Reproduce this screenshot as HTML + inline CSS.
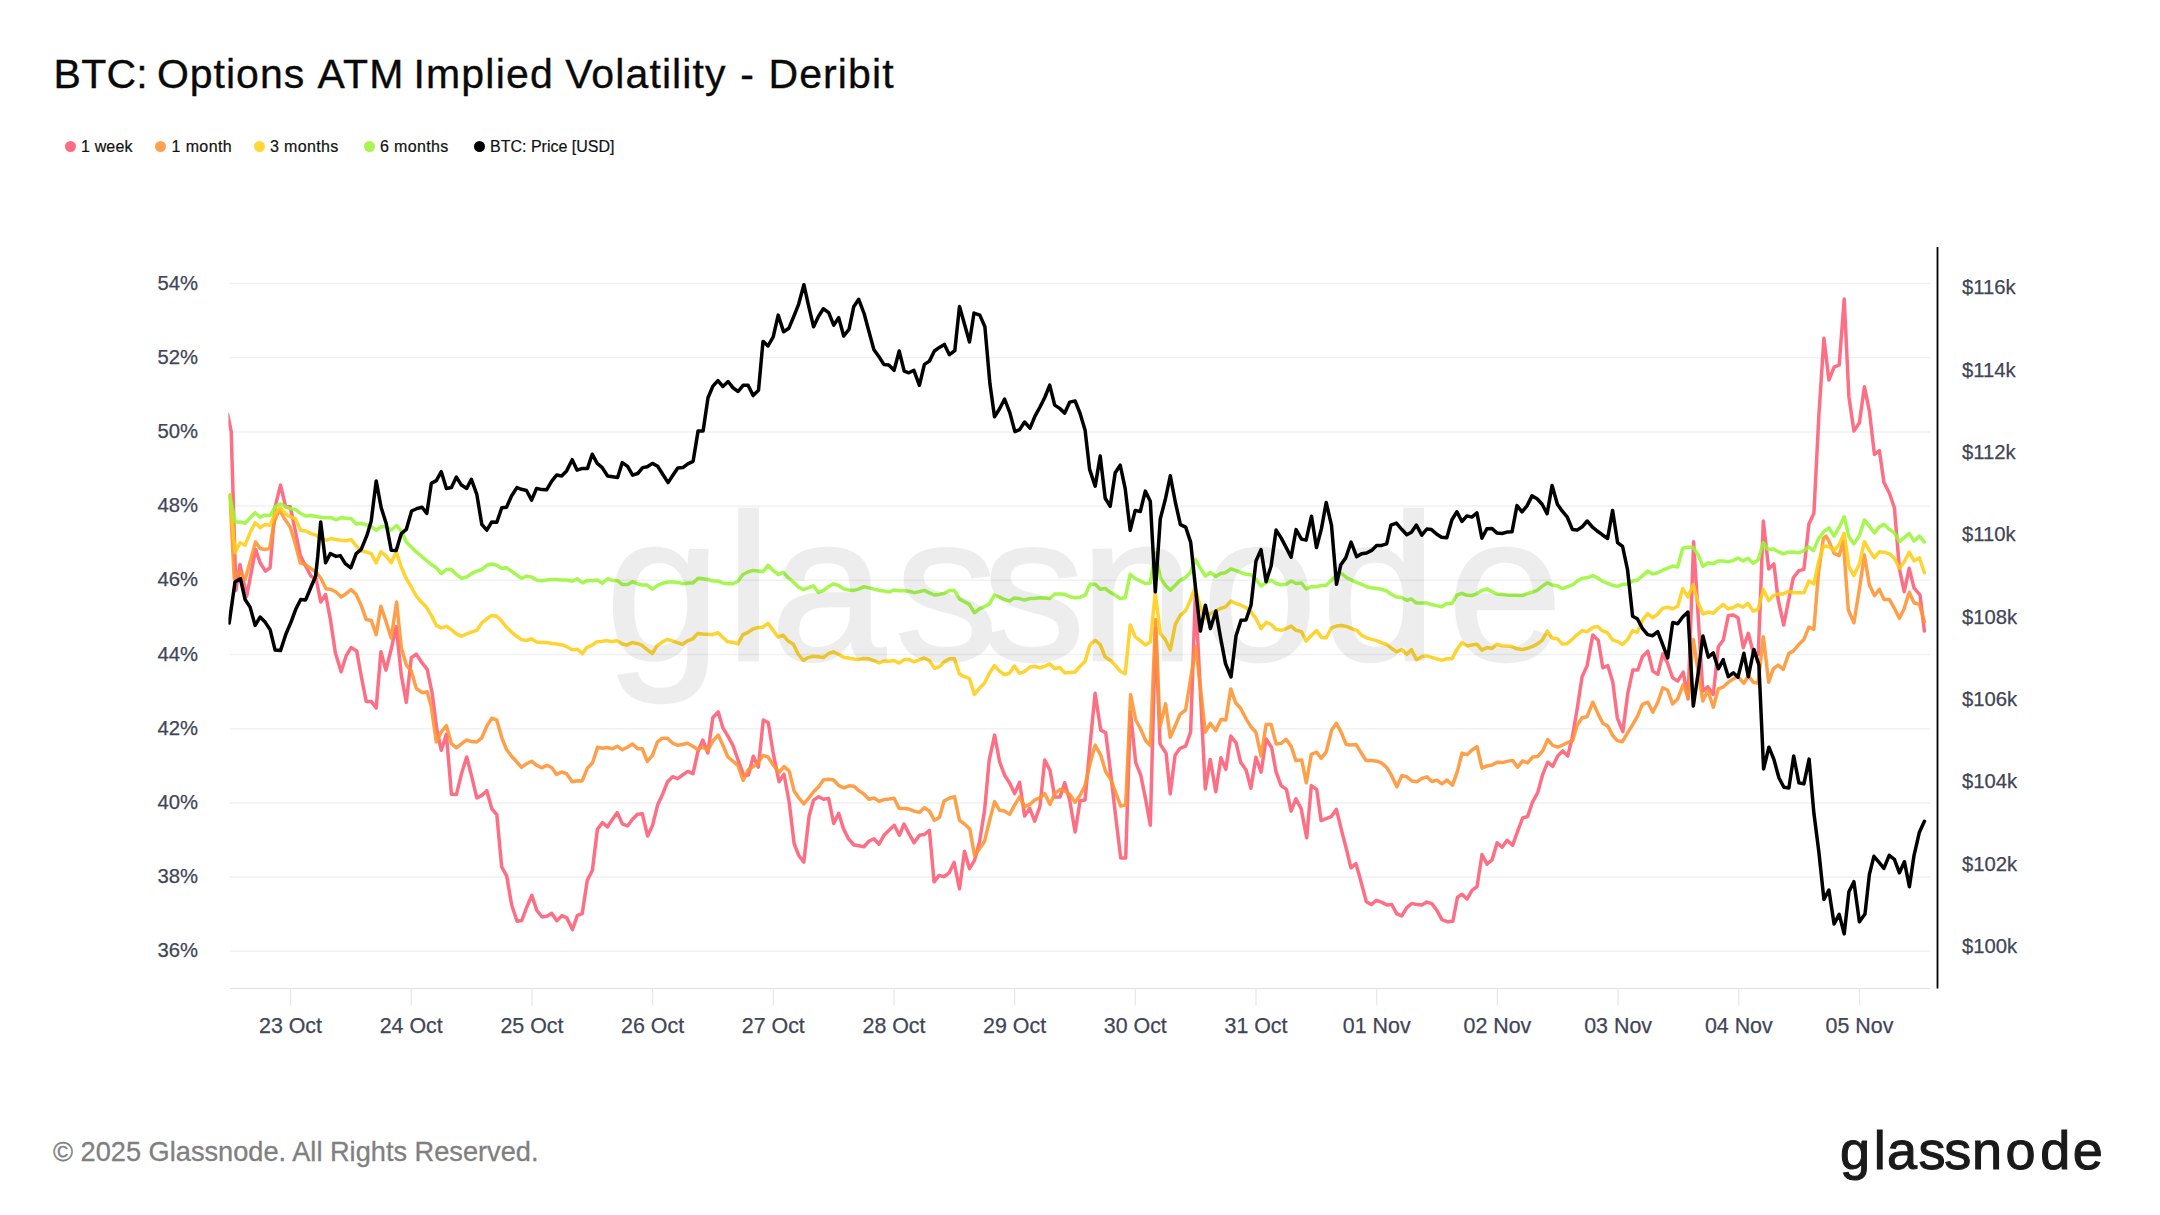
<!DOCTYPE html>
<html><head><meta charset="utf-8"><title>BTC: Options ATM Implied Volatility - Deribit</title>
<style>
html,body{margin:0;padding:0;background:#fff;}
body{width:2160px;height:1215px;position:relative;overflow:hidden;font-family:"Liberation Sans",sans-serif;}
#title{position:absolute;left:0;top:47.7px;height:52px;font-size:41px;line-height:52px;color:#0a0a0a;white-space:nowrap;}
#title span{position:absolute;top:0;white-space:nowrap;-webkit-text-stroke:0.35px #0a0a0a;}
#legend{position:absolute;left:0;top:134px;height:24px;font-size:16px;line-height:24px;color:#111;white-space:nowrap;}
#legend span.i{position:absolute;top:0.5px;white-space:nowrap;letter-spacing:0.15px;-webkit-text-stroke:0.2px #111;}
#legend span.d{position:absolute;top:6.5px;width:11px;height:11px;border-radius:50%;}
#foot{position:absolute;left:53px;top:1137px;font-size:27.2px;line-height:30px;color:#808080;white-space:nowrap;-webkit-text-stroke:0.3px #808080;}
svg{position:absolute;left:0;top:0;}
.ax{font-family:"Liberation Sans",sans-serif;font-size:20.3px;fill:#3f4656;stroke:#3f4656;stroke-width:0.25px;}
.xl{font-size:21.4px;}
.lg{font-family:"Liberation Sans",sans-serif;font-size:54px;fill:#1a1a1a;stroke:#1a1a1a;stroke-width:1.1px;}
.wm{font-family:"Liberation Sans",sans-serif;font-size:207px;fill:#000;stroke:#000;stroke-width:2.5px;opacity:0.068;}
</style></head><body>
<div id="title"><span style="left:53.6px;letter-spacing:0.2px">BTC:</span> <span style="left:156.9px;letter-spacing:1.0px">Options</span> <span style="left:317.6px;letter-spacing:1.15px">ATM</span> <span style="left:413.4px;letter-spacing:1.2px">Implied</span> <span style="left:565.2px;letter-spacing:1.1px">Volatility</span> <span style="left:740.2px;letter-spacing:0px">-</span> <span style="left:768.5px;letter-spacing:1.1px">Deribit</span></div>
<div id="legend">
<span class="d" style="left:64.5px;background:#ff6b82"></span><span class="i" style="left:81px">1 week</span>
<span class="d" style="left:154.5px;background:#ffa14e"></span><span class="i" style="left:171.5px;letter-spacing:0.4px">1 month</span>
<span class="d" style="left:253.5px;background:#ffd834"></span><span class="i" style="left:270px;letter-spacing:0.35px">3 months</span>
<span class="d" style="left:363.5px;background:#a8f552"></span><span class="i" style="left:380px;letter-spacing:0.35px">6 months</span>
<span class="d" style="left:473.5px;background:#000"></span><span class="i" style="left:490px;letter-spacing:0px">BTC: Price [USD]</span>
</div>
<svg width="2160" height="1215" viewBox="0 0 2160 1215">
<line x1="230" y1="283.5" x2="1930" y2="283.5" stroke="#f1f1f1" stroke-width="1.5"/><line x1="230" y1="357.7" x2="1930" y2="357.7" stroke="#f1f1f1" stroke-width="1.5"/><line x1="230" y1="431.9" x2="1930" y2="431.9" stroke="#f1f1f1" stroke-width="1.5"/><line x1="230" y1="506.1" x2="1930" y2="506.1" stroke="#f1f1f1" stroke-width="1.5"/><line x1="230" y1="580.3" x2="1930" y2="580.3" stroke="#f1f1f1" stroke-width="1.5"/><line x1="230" y1="654.5" x2="1930" y2="654.5" stroke="#f1f1f1" stroke-width="1.5"/><line x1="230" y1="728.7" x2="1930" y2="728.7" stroke="#f1f1f1" stroke-width="1.5"/><line x1="230" y1="802.9" x2="1930" y2="802.9" stroke="#f1f1f1" stroke-width="1.5"/><line x1="230" y1="877.1" x2="1930" y2="877.1" stroke="#f1f1f1" stroke-width="1.5"/><line x1="230" y1="951.3" x2="1930" y2="951.3" stroke="#f1f1f1" stroke-width="1.5"/>
<line x1="230" y1="988.5" x2="1930" y2="988.5" stroke="#e2e2e2" stroke-width="1.1"/>
<text x="198" y="289.5" text-anchor="end" class="ax">54%</text><text x="198" y="363.7" text-anchor="end" class="ax">52%</text><text x="198" y="437.9" text-anchor="end" class="ax">50%</text><text x="198" y="512.1" text-anchor="end" class="ax">48%</text><text x="198" y="586.3" text-anchor="end" class="ax">46%</text><text x="198" y="660.5" text-anchor="end" class="ax">44%</text><text x="198" y="734.7" text-anchor="end" class="ax">42%</text><text x="198" y="808.9" text-anchor="end" class="ax">40%</text><text x="198" y="883.1" text-anchor="end" class="ax">38%</text><text x="198" y="957.3" text-anchor="end" class="ax">36%</text><text x="1962" y="294.4" class="ax">$116k</text><text x="1962" y="376.7" class="ax">$114k</text><text x="1962" y="459.0" class="ax">$112k</text><text x="1962" y="541.3" class="ax">$110k</text><text x="1962" y="623.6" class="ax">$108k</text><text x="1962" y="705.9" class="ax">$106k</text><text x="1962" y="788.2" class="ax">$104k</text><text x="1962" y="870.5" class="ax">$102k</text><text x="1962" y="952.8" class="ax">$100k</text><line x1="290.5" y1="988" x2="290.5" y2="1005.5" stroke="#e8e8e8" stroke-width="1.3"/><text x="290.5" y="1033" text-anchor="middle" class="ax xl">23 Oct</text><line x1="411.2" y1="988" x2="411.2" y2="1005.5" stroke="#e8e8e8" stroke-width="1.3"/><text x="411.2" y="1033" text-anchor="middle" class="ax xl">24 Oct</text><line x1="531.9" y1="988" x2="531.9" y2="1005.5" stroke="#e8e8e8" stroke-width="1.3"/><text x="531.9" y="1033" text-anchor="middle" class="ax xl">25 Oct</text><line x1="652.6" y1="988" x2="652.6" y2="1005.5" stroke="#e8e8e8" stroke-width="1.3"/><text x="652.6" y="1033" text-anchor="middle" class="ax xl">26 Oct</text><line x1="773.3" y1="988" x2="773.3" y2="1005.5" stroke="#e8e8e8" stroke-width="1.3"/><text x="773.3" y="1033" text-anchor="middle" class="ax xl">27 Oct</text><line x1="894.0" y1="988" x2="894.0" y2="1005.5" stroke="#e8e8e8" stroke-width="1.3"/><text x="894.0" y="1033" text-anchor="middle" class="ax xl">28 Oct</text><line x1="1014.6" y1="988" x2="1014.6" y2="1005.5" stroke="#e8e8e8" stroke-width="1.3"/><text x="1014.6" y="1033" text-anchor="middle" class="ax xl">29 Oct</text><line x1="1135.3" y1="988" x2="1135.3" y2="1005.5" stroke="#e8e8e8" stroke-width="1.3"/><text x="1135.3" y="1033" text-anchor="middle" class="ax xl">30 Oct</text><line x1="1256.0" y1="988" x2="1256.0" y2="1005.5" stroke="#e8e8e8" stroke-width="1.3"/><text x="1256.0" y="1033" text-anchor="middle" class="ax xl">31 Oct</text><line x1="1376.7" y1="988" x2="1376.7" y2="1005.5" stroke="#e8e8e8" stroke-width="1.3"/><text x="1376.7" y="1033" text-anchor="middle" class="ax xl">01 Nov</text><line x1="1497.4" y1="988" x2="1497.4" y2="1005.5" stroke="#e8e8e8" stroke-width="1.3"/><text x="1497.4" y="1033" text-anchor="middle" class="ax xl">02 Nov</text><line x1="1618.1" y1="988" x2="1618.1" y2="1005.5" stroke="#e8e8e8" stroke-width="1.3"/><text x="1618.1" y="1033" text-anchor="middle" class="ax xl">03 Nov</text><line x1="1738.8" y1="988" x2="1738.8" y2="1005.5" stroke="#e8e8e8" stroke-width="1.3"/><text x="1738.8" y="1033" text-anchor="middle" class="ax xl">04 Nov</text><line x1="1859.5" y1="988" x2="1859.5" y2="1005.5" stroke="#e8e8e8" stroke-width="1.3"/><text x="1859.5" y="1033" text-anchor="middle" class="ax xl">05 Nov</text>
<clipPath id="pc"><rect x="228.4" y="240" width="1702" height="750"/></clipPath>
<g clip-path="url(#pc)"><polyline points="227.6,414.0 231.2,431.5 235.9,590.4 240.0,564.5 246.7,596.2 255.6,549.4 260.1,562.8 265.4,571.1 270.1,567.8 275.1,506.8 280.5,485.1 285.7,506.8 290.2,506.8 295.2,530.2 300.2,555.3 305.2,565.3 311.0,576.2 316.1,578.7 320.7,602.0 325.6,594.5 330.3,618.8 335.3,652.6 341.1,671.8 346.1,655.9 351.1,647.6 356.7,650.9 361.2,676.0 366.2,701.4 371.2,701.4 376.2,708.0 380.9,651.7 385.9,670.1 391.2,649.2 396.2,626.7 401.3,675.1 406.3,702.4 411.3,657.6 416.3,654.2 421.3,661.8 427.2,669.3 432.2,693.5 436.7,728.6 441.3,750.3 446.4,734.4 451.4,794.2 456.4,794.6 461.7,772.9 466.7,757.0 471.4,775.4 476.8,797.9 481.8,795.4 486.8,790.7 491.8,808.8 496.8,814.6 501.7,866.9 506.7,876.1 511.7,905.3 517.1,921.2 521.8,920.4 526.8,907.0 531.8,895.3 536.8,910.4 542.1,917.0 546.8,916.2 551.8,913.4 556.8,920.7 561.9,915.7 566.9,917.9 572.4,929.6 577.4,915.4 582.2,913.7 587.3,880.3 592.4,870.3 597.4,829.3 602.5,822.6 607.5,826.8 612.5,819.3 617.3,812.6 622.3,823.8 627.5,826.0 632.5,819.3 637.5,814.3 642.4,813.8 647.6,836.0 652.6,825.2 657.6,805.1 662.6,794.2 667.6,781.7 672.6,776.7 677.6,778.7 682.6,775.0 687.7,771.4 693.0,773.7 697.8,752.0 702.8,740.0 707.8,752.9 712.8,717.8 718.2,711.9 722.9,727.8 727.9,736.2 732.9,745.3 737.9,759.5 743.7,775.4 748.4,775.1 753.3,756.2 758.3,767.1 763.3,719.9 768.3,722.8 773.0,752.0 779.0,781.7 784.0,774.2 789.1,801.8 794.1,843.5 798.6,855.2 803.8,862.2 809.1,816.0 813.6,800.1 818.6,796.8 823.6,799.3 828.6,798.4 833.7,823.5 838.7,813.3 843.4,828.6 848.4,838.7 853.9,845.0 858.9,845.7 863.9,846.7 868.9,841.2 874.0,838.7 879.0,844.2 884.0,835.3 889.0,830.3 894.3,825.3 899.4,835.3 904.0,824.0 909.0,833.6 914.1,842.8 919.4,835.3 924.4,834.5 929.4,830.3 934.1,881.8 939.1,875.4 944.1,876.7 949.1,872.9 954.1,862.4 959.5,888.8 964.5,851.2 969.5,868.7 974.5,860.4 979.5,842.0 984.6,810.3 989.2,760.1 994.6,735.1 999.6,761.8 1004.6,775.2 1009.6,783.0 1014.6,793.6 1019.6,782.2 1024.6,816.1 1029.7,808.3 1034.7,821.1 1040.0,806.1 1044.7,760.1 1050.0,770.2 1054.7,796.9 1060.1,796.9 1064.7,782.7 1069.7,800.2 1075.1,832.0 1080.1,800.7 1085.1,799.9 1090.1,744.3 1095.1,693.3 1100.7,730.1 1105.7,732.6 1110.7,773.5 1115.7,816.9 1120.7,857.9 1125.7,857.9 1130.4,711.7 1135.7,762.6 1140.7,775.2 1145.8,800.2 1150.3,825.3 1155.6,628.0 1160.0,743.9 1166.1,753.3 1170.2,793.9 1175.0,755.6 1180.0,748.3 1185.6,746.1 1190.6,732.2 1195.4,593.5 1205.3,788.9 1210.2,759.4 1215.8,791.7 1220.9,757.8 1225.8,769.4 1230.8,736.1 1236.1,742.8 1240.6,762.2 1246.1,770.0 1250.9,788.3 1255.9,757.2 1261.1,772.2 1266.1,738.9 1271.7,747.8 1276.1,772.2 1281.1,785.6 1286.4,789.4 1291.1,811.1 1295.9,798.9 1301.1,808.3 1306.7,837.8 1311.3,785.6 1316.7,789.4 1321.1,820.6 1331.1,816.7 1336.4,809.4 1341.7,831.1 1346.7,850.3 1350.9,867.8 1355.9,863.6 1360.9,881.2 1366.3,901.7 1371.3,904.6 1376.3,900.4 1381.3,902.1 1386.8,904.9 1391.8,904.6 1396.8,913.8 1401.8,915.9 1406.8,907.6 1411.9,903.4 1416.9,904.6 1421.9,905.1 1426.9,902.1 1431.9,903.7 1436.9,910.4 1441.9,919.6 1447.8,921.8 1452.8,921.3 1457.5,897.1 1462.0,894.2 1467.0,899.1 1472.0,890.4 1477.0,886.7 1482.0,854.5 1487.0,864.1 1492.0,860.0 1497.1,842.8 1502.1,847.3 1507.1,840.3 1512.6,845.3 1517.6,831.4 1522.6,818.0 1527.6,816.5 1532.6,801.8 1537.7,792.6 1542.7,774.3 1547.7,762.2 1552.7,766.4 1557.7,755.9 1562.7,750.9 1567.7,755.9 1572.0,738.9 1577.0,710.0 1582.1,676.7 1587.1,665.6 1592.8,635.0 1598.3,640.6 1602.8,667.8 1607.8,665.6 1612.8,682.2 1617.3,717.8 1622.8,731.7 1627.8,693.3 1632.8,670.0 1637.8,670.0 1642.4,656.7 1647.8,651.1 1652.8,671.1 1657.8,674.4 1662.8,653.9 1667.6,663.3 1672.6,677.8 1677.7,681.1 1683.3,672.2 1688.1,698.9 1693.6,541.8 1702.8,691.1 1707.8,686.7 1713.3,694.4 1718.3,646.7 1723.3,640.0 1728.3,615.6 1733.3,615.0 1738.0,617.8 1743.3,647.8 1748.3,633.3 1753.3,652.8 1758.3,654.4 1763.3,521.1 1768.7,568.9 1773.9,563.9 1778.2,600.0 1783.7,625.0 1788.9,598.9 1793.3,577.8 1798.9,570.6 1803.9,569.4 1808.9,523.9 1813.9,513.3 1818.9,415.0 1823.9,338.3 1828.9,380.0 1834.1,367.2 1839.2,365.0 1844.2,299.1 1848.9,396.7 1853.9,431.1 1859.4,422.8 1864.4,386.7 1869.4,411.1 1874.4,454.4 1879.4,450.6 1883.9,482.2 1889.4,493.3 1894.4,507.8 1899.4,568.9 1904.2,591.7 1909.2,568.3 1914.0,587.8 1920.0,595.0 1924.4,631.1" fill="none" stroke="#fd5b73" stroke-opacity="0.88" stroke-width="3.5" stroke-linejoin="round" stroke-linecap="round"/><polyline points="230.0,495.1 234.2,578.7 236.7,573.6 240.0,572.0 245.1,579.5 255.6,541.9 260.1,548.6 265.1,549.4 269.6,548.6 274.3,521.9 279.3,509.3 284.3,518.5 290.2,526.9 295.2,543.6 300.2,562.8 305.2,564.5 311.0,568.6 316.1,572.0 321.1,578.7 326.1,588.7 331.1,589.5 336.1,592.0 341.1,597.0 346.1,593.7 351.1,589.5 356.2,594.5 361.2,605.4 366.2,619.6 371.2,620.4 376.2,634.6 380.9,606.2 386.2,622.1 391.2,638.0 396.6,602.0 401.3,647.6 406.3,665.1 411.3,671.0 416.3,688.5 422.1,692.7 427.2,691.8 431.3,706.9 436.3,742.0 441.3,731.9 446.4,725.7 451.4,743.6 456.4,747.8 461.7,743.6 466.7,739.9 471.4,741.6 476.8,742.0 481.8,737.8 486.8,726.1 491.8,718.2 496.8,720.2 501.8,737.8 506.5,749.5 511.5,756.2 516.9,762.0 521.5,767.3 526.5,763.7 531.6,761.2 536.6,765.3 541.6,767.8 546.9,765.3 551.9,767.8 556.6,774.5 561.6,772.0 566.6,773.7 572.2,781.7 577.5,780.7 582.2,780.9 587.3,768.4 591.7,763.7 592.4,763.3 597.6,747.3 602.6,748.2 607.1,747.5 612.6,748.7 617.3,746.2 622.3,749.8 627.3,747.3 632.6,744.0 637.7,748.7 642.2,748.7 647.3,761.5 652.4,755.4 657.4,742.0 661.9,738.3 667.4,738.3 672.2,742.8 677.3,745.3 682.4,744.5 687.4,743.3 692.8,746.2 697.8,749.5 702.5,747.0 707.8,750.4 712.8,741.2 718.2,735.0 722.9,745.3 727.9,757.0 732.9,761.2 737.9,765.4 743.1,780.4 748.1,770.0 753.1,766.7 757.9,762.9 763.0,755.4 768.0,757.0 773.0,764.6 779.0,772.5 784.0,766.7 789.1,770.9 794.1,790.9 798.6,797.6 803.8,803.8 809.1,797.6 813.6,791.7 818.6,786.7 823.6,779.7 828.6,779.2 833.7,780.0 838.5,785.4 844.0,787.9 849.0,785.8 854.0,786.3 858.5,790.4 863.5,793.8 869.0,799.3 874.0,798.0 879.1,801.3 884.1,799.6 889.1,799.1 894.1,798.3 899.0,808.3 904.0,808.6 909.0,809.1 914.1,811.1 919.4,812.4 924.4,807.8 929.4,811.1 934.4,820.3 939.4,817.4 944.1,801.1 949.1,798.2 954.5,796.6 959.5,820.3 964.5,824.0 969.8,829.0 974.5,855.4 979.5,848.7 984.6,841.2 989.2,822.0 994.6,801.6 999.6,810.3 1004.6,811.1 1009.6,814.4 1014.6,805.2 1019.6,796.9 1024.6,806.6 1029.7,804.4 1034.7,800.2 1040.0,797.7 1044.7,793.6 1050.0,804.4 1054.7,793.6 1060.1,789.4 1064.7,791.0 1069.7,794.4 1075.1,802.2 1080.1,795.2 1085.1,785.2 1090.1,763.5 1095.1,745.1 1100.7,755.1 1105.7,771.8 1110.7,779.4 1115.7,792.7 1120.7,806.1 1125.7,804.7 1130.6,694.5 1135.7,720.0 1140.7,729.2 1145.8,740.9 1150.3,745.4 1155.6,619.4 1160.0,726.7 1165.6,703.9 1170.2,737.2 1175.6,725.0 1180.0,714.4 1185.6,710.0 1195.8,646.7 1205.3,732.2 1210.2,723.3 1215.8,730.6 1220.9,719.4 1225.8,720.0 1230.8,688.9 1235.6,702.8 1240.6,708.3 1246.1,718.9 1250.9,726.7 1255.9,732.2 1261.1,756.1 1266.1,724.4 1271.1,724.4 1276.1,743.9 1281.1,743.3 1286.1,739.4 1291.1,746.1 1295.9,760.6 1301.7,760.0 1306.3,782.8 1311.3,754.4 1316.7,752.2 1321.1,758.3 1326.1,752.2 1331.7,730.0 1336.4,723.3 1341.7,733.3 1346.1,744.4 1351.1,745.0 1356.1,744.4 1361.1,752.8 1366.1,760.6 1371.8,760.4 1376.8,761.2 1381.8,763.1 1386.8,767.6 1391.8,775.9 1396.8,786.8 1401.8,775.6 1406.8,776.8 1411.9,781.0 1416.9,781.8 1421.9,778.4 1426.9,776.8 1431.9,781.5 1436.9,780.1 1441.9,783.8 1446.9,780.1 1452.5,785.1 1457.5,770.9 1462.0,753.1 1467.0,754.7 1472.0,750.0 1477.0,746.7 1482.0,768.1 1487.0,765.9 1492.0,765.1 1497.1,762.2 1502.1,762.6 1507.1,761.4 1512.6,760.4 1517.6,767.3 1522.6,760.9 1527.6,762.9 1532.6,757.1 1537.7,756.4 1542.7,750.9 1547.7,739.5 1552.7,745.4 1557.7,747.2 1562.7,745.0 1567.7,742.5 1572.7,740.4 1577.0,725.6 1582.1,717.8 1587.1,716.7 1592.8,702.2 1598.3,714.4 1602.8,723.3 1607.8,726.1 1612.8,735.6 1617.3,740.6 1622.3,741.7 1627.3,733.3 1632.8,724.4 1637.8,715.6 1642.4,704.4 1647.8,702.2 1652.8,712.2 1657.8,702.2 1662.8,687.8 1667.6,690.0 1672.6,703.9 1677.7,698.9 1683.3,684.4 1688.3,697.8 1693.3,639.4 1698.3,672.2 1702.8,701.1 1707.8,690.0 1713.3,707.2 1718.3,688.9 1722.9,687.2 1728.3,682.2 1733.3,678.9 1738.0,676.7 1743.9,683.3 1748.3,675.6 1753.3,682.2 1758.1,683.3 1763.3,636.7 1768.7,682.2 1773.3,668.9 1778.2,665.0 1783.2,669.4 1788.9,653.3 1793.3,651.1 1798.3,645.0 1803.9,639.4 1808.9,627.2 1813.9,629.4 1818.4,573.3 1823.4,538.3 1826.1,536.1 1828.9,541.1 1834.1,553.3 1839.2,555.6 1843.3,541.1 1848.3,610.0 1853.9,622.8 1859.4,588.9 1864.4,555.0 1869.4,585.0 1874.4,595.6 1879.4,589.4 1883.9,599.4 1889.4,599.4 1894.4,608.3 1899.4,618.3 1904.0,608.9 1909.2,592.2 1914.0,602.8 1919.4,604.4 1924.4,621.7" fill="none" stroke="#fe9331" stroke-opacity="0.88" stroke-width="3.5" stroke-linejoin="round" stroke-linecap="round"/><polyline points="230.0,495.1 235.0,552.8 240.0,542.7 245.1,545.2 250.1,532.7 255.1,522.7 260.1,527.7 265.1,524.4 270.1,525.2 275.1,513.5 280.1,507.7 285.2,513.5 290.2,516.8 295.2,518.5 300.7,530.2 305.7,531.0 311.0,533.6 316.1,535.2 321.1,538.6 326.1,540.2 331.1,538.6 336.1,539.4 341.1,540.2 346.1,540.7 351.1,539.4 356.2,546.1 361.2,551.1 366.2,551.9 371.2,553.6 376.2,562.8 380.9,551.9 386.2,556.1 391.2,562.8 396.2,551.9 401.3,567.0 406.3,578.7 411.3,587.0 416.3,596.2 421.3,602.0 426.3,607.1 431.3,615.4 436.3,625.4 441.3,627.9 446.4,626.3 451.4,629.6 456.4,633.8 461.7,636.3 466.7,633.8 471.4,632.1 476.8,630.4 481.8,622.9 486.8,618.8 491.8,615.4 496.8,616.2 501.8,621.3 506.5,627.1 511.5,632.1 516.9,636.3 521.5,639.6 526.5,640.5 531.6,638.8 536.6,642.1 541.6,642.6 546.9,642.6 551.9,643.4 556.6,643.9 561.6,644.7 566.6,646.7 572.2,649.7 577.5,649.2 582.5,653.8 586.7,647.6 591.7,645.4 596.7,641.8 601.7,641.4 606.8,640.6 611.8,641.8 616.8,640.6 621.8,643.8 626.8,645.1 632.1,642.6 636.8,643.4 641.8,645.1 646.8,649.3 652.4,653.5 656.9,645.9 661.9,642.3 667.4,639.3 672.2,640.9 677.3,642.6 682.4,644.3 687.4,640.9 692.8,638.8 697.8,633.4 702.5,633.9 707.3,634.2 712.3,634.7 717.8,632.6 722.5,637.1 727.5,641.8 732.4,642.3 737.9,643.9 742.9,634.6 747.6,632.6 752.6,629.2 757.6,627.6 762.6,627.2 768.0,623.4 773.0,630.1 778.0,637.1 783.0,635.1 788.0,640.9 793.4,644.3 798.0,653.8 803.4,660.5 808.1,657.6 813.1,656.3 818.4,656.8 823.4,657.6 828.4,653.5 833.4,651.8 838.5,654.3 844.0,657.6 849.0,658.1 854.0,659.0 858.5,659.6 863.5,658.5 869.0,658.8 874.0,660.6 879.1,663.0 884.1,661.0 889.1,661.3 894.1,660.5 899.1,663.1 904.1,659.6 909.1,659.6 913.6,661.8 918.6,660.1 924.2,658.0 929.4,660.6 934.4,668.3 939.4,666.7 944.4,661.7 949.4,658.7 954.4,658.7 959.4,673.9 964.4,676.7 969.4,678.3 974.4,694.4 979.4,688.3 984.4,683.3 989.4,673.3 994.4,665.6 999.4,671.1 1004.4,674.7 1009.4,673.3 1014.4,666.1 1019.4,673.3 1024.4,671.7 1030.0,667.0 1035.0,666.5 1040.0,667.8 1045.0,666.2 1049.7,663.7 1054.7,668.7 1059.7,667.5 1064.7,672.9 1069.8,672.4 1075.1,672.0 1080.1,666.2 1085.1,661.2 1090.1,644.5 1095.2,640.3 1100.2,644.5 1105.2,657.0 1110.2,660.3 1115.2,665.3 1120.2,671.2 1125.2,673.7 1130.2,624.9 1135.2,636.9 1140.3,640.6 1145.3,645.0 1150.3,642.0 1155.3,592.7 1160.3,633.6 1165.3,639.4 1170.3,650.0 1175.3,624.4 1180.4,615.2 1185.4,611.0 1190.4,600.2 1195.1,587.7 1200.4,606.9 1205.4,618.6 1210.4,613.6 1215.9,611.0 1220.4,608.5 1225.5,606.9 1231.0,601.0 1236.0,603.5 1241.0,605.2 1246.0,607.7 1251.0,611.9 1256.0,618.6 1261.0,628.6 1266.1,622.4 1271.1,624.4 1276.1,629.4 1281.1,630.3 1286.1,628.6 1291.1,626.1 1296.1,630.3 1301.5,631.6 1306.1,641.1 1311.5,635.3 1316.5,630.6 1321.5,637.4 1326.2,637.8 1331.5,627.8 1336.5,626.1 1341.6,625.6 1346.6,626.4 1351.6,628.6 1356.6,630.3 1361.6,635.3 1366.6,637.8 1371.6,639.4 1376.6,640.6 1381.7,642.8 1386.7,644.5 1390.9,647.9 1396.4,651.8 1401.7,649.6 1406.8,654.3 1411.4,649.6 1416.4,659.6 1421.8,656.8 1426.8,655.9 1431.5,657.4 1436.5,658.8 1441.5,660.4 1446.8,658.8 1451.9,658.8 1456.9,649.6 1461.9,642.6 1466.9,645.9 1471.9,645.1 1476.9,644.2 1481.9,650.1 1486.9,647.6 1492.0,648.4 1497.0,644.2 1502.0,645.7 1507.0,645.9 1512.0,646.6 1517.0,648.8 1522.0,649.6 1527.0,648.4 1532.0,646.7 1537.1,644.1 1542.1,640.4 1547.4,631.2 1552.1,637.9 1557.4,638.7 1562.4,644.1 1567.1,643.7 1572.5,639.1 1577.2,634.6 1582.2,630.7 1587.2,631.7 1593.0,627.4 1597.7,626.5 1602.2,630.7 1607.6,632.9 1612.6,639.9 1617.6,641.6 1622.6,644.6 1627.6,639.6 1632.6,630.7 1637.3,632.4 1642.6,619.8 1647.6,613.7 1652.7,617.8 1657.7,614.0 1662.7,608.2 1667.7,607.3 1672.7,608.7 1677.7,606.2 1682.7,588.6 1687.9,597.0 1693.3,584.8 1697.9,602.0 1702.9,614.0 1708.3,612.0 1713.3,613.2 1718.3,608.3 1723.3,604.5 1727.9,608.7 1733.0,607.8 1738.0,604.7 1743.0,607.2 1748.0,603.3 1753.1,611.1 1758.1,609.4 1763.3,589.4 1768.7,600.6 1773.2,595.6 1778.2,593.9 1783.2,593.9 1788.9,591.1 1793.3,592.8 1798.3,592.8 1803.9,592.8 1808.9,581.1 1813.9,583.9 1818.4,562.8 1823.4,546.1 1828.9,546.7 1834.1,550.6 1839.2,544.4 1844.2,533.3 1848.9,566.7 1853.9,575.6 1859.4,563.9 1864.4,541.7 1869.4,550.6 1874.4,557.8 1879.4,551.7 1883.9,552.2 1889.4,553.9 1894.4,558.3 1899.4,568.3 1904.0,562.2 1909.2,552.2 1914.0,560.9 1919.4,557.8 1924.4,572.8" fill="none" stroke="#fdce15" stroke-opacity="0.88" stroke-width="3.5" stroke-linejoin="round" stroke-linecap="round"/><polyline points="230.0,496.8 235.0,521.9 240.0,521.9 245.1,523.2 250.1,517.7 255.1,512.7 260.1,517.2 265.1,515.2 270.1,515.5 275.1,506.8 280.5,503.8 285.7,506.8 290.2,508.8 295.2,509.3 300.7,513.5 305.7,516.0 311.0,515.5 316.1,516.5 321.1,517.3 326.1,517.7 331.1,517.7 336.1,519.9 341.1,517.7 346.1,518.2 351.1,518.5 356.2,524.0 361.2,523.2 366.2,524.9 371.2,526.4 376.2,530.2 380.9,526.9 386.2,526.4 391.2,530.2 396.6,525.5 401.3,531.0 406.3,541.9 411.3,546.9 416.3,551.9 421.3,556.1 426.3,560.3 431.3,564.5 436.3,567.8 441.3,573.6 446.4,569.5 451.4,569.5 456.4,574.5 461.7,578.3 466.7,577.0 471.4,573.6 476.8,571.1 481.8,569.5 486.8,565.3 491.8,564.0 496.8,565.3 501.8,568.6 506.5,567.8 511.5,571.1 516.9,575.0 521.5,578.3 526.5,576.2 531.6,577.0 536.6,580.0 541.6,580.7 546.6,580.0 551.9,579.5 556.6,579.5 561.6,580.0 566.6,580.0 572.2,581.2 577.0,578.7 582.5,582.9 587.5,580.4 592.2,580.7 597.2,579.9 602.2,583.4 607.6,578.7 612.6,580.4 617.6,580.7 622.3,584.6 627.6,584.6 632.6,581.7 637.7,584.0 642.7,585.1 647.3,585.1 652.4,589.1 657.7,585.4 662.7,583.2 668.1,582.0 672.7,582.0 677.8,582.4 682.8,583.7 687.8,582.9 693.1,582.9 698.1,578.2 703.1,578.7 707.8,579.5 712.8,580.9 717.8,580.9 722.5,582.9 727.5,583.7 732.9,583.7 737.9,581.2 742.9,574.5 747.9,572.0 752.9,570.4 757.9,570.9 763.0,571.7 768.0,565.3 773.0,570.4 778.3,574.5 783.3,572.4 788.3,577.9 793.4,582.0 798.4,587.1 803.4,589.6 808.1,587.9 813.4,585.9 818.4,592.4 823.4,590.7 828.4,586.6 833.4,584.0 838.5,585.4 844.0,589.1 849.0,589.9 853.5,590.4 858.5,589.1 864.0,586.7 869.0,587.9 874.0,589.1 879.1,590.4 884.1,590.9 889.1,592.1 894.1,589.9 899.1,590.7 904.1,590.7 909.1,591.2 914.1,592.6 919.1,591.7 924.2,590.4 929.4,592.8 934.4,595.0 939.4,594.4 944.4,593.3 949.4,590.6 954.4,590.6 959.4,598.9 964.4,601.7 969.4,604.4 974.4,612.8 979.4,608.9 984.4,606.7 989.4,603.9 994.4,595.0 999.4,597.2 1004.4,599.4 1009.4,600.9 1014.4,598.0 1019.4,598.6 1024.4,600.0 1030.0,598.5 1035.0,598.2 1040.0,597.7 1045.0,598.0 1049.7,598.5 1054.7,594.0 1059.7,594.0 1064.7,594.3 1069.8,596.8 1075.1,597.7 1080.1,597.2 1085.1,595.2 1090.1,584.3 1095.2,584.3 1100.2,589.3 1105.2,588.5 1110.2,592.3 1115.2,595.2 1120.2,598.5 1125.2,597.7 1130.2,574.3 1135.2,578.5 1140.3,581.0 1145.3,583.5 1150.3,583.1 1152.8,566.8 1155.3,552.6 1160.3,577.6 1165.3,585.2 1170.3,590.2 1175.3,585.2 1180.4,580.1 1185.4,577.6 1190.4,572.6 1195.4,559.3 1200.4,568.4 1205.4,576.0 1210.4,572.3 1215.9,576.5 1220.4,573.5 1225.5,572.6 1231.0,568.8 1236.0,570.6 1241.0,572.6 1246.0,574.3 1251.0,574.8 1256.0,579.3 1261.0,586.0 1266.1,582.6 1271.1,580.1 1276.1,583.5 1281.1,584.8 1286.1,584.3 1291.1,581.0 1296.1,583.5 1301.5,583.0 1306.1,589.0 1311.5,586.5 1316.5,586.8 1321.5,585.5 1326.2,585.2 1331.5,580.1 1336.5,575.1 1341.6,573.5 1346.6,577.6 1351.6,580.1 1356.6,582.3 1361.6,584.3 1366.6,586.8 1371.6,587.7 1376.6,588.5 1381.7,589.3 1386.7,591.0 1390.9,594.0 1396.4,597.0 1401.7,597.5 1406.8,600.3 1411.4,599.0 1416.4,603.1 1421.8,603.1 1426.8,603.1 1431.5,604.5 1436.5,605.6 1441.5,606.7 1446.8,603.6 1451.9,603.6 1456.9,595.0 1461.9,593.3 1466.9,595.3 1471.9,595.6 1476.9,593.6 1481.9,590.6 1486.9,588.9 1492.0,591.6 1497.0,594.0 1502.0,594.5 1507.0,595.0 1512.0,595.3 1517.0,595.3 1522.0,595.6 1527.0,593.6 1532.0,592.3 1537.1,590.3 1542.1,586.4 1547.4,582.8 1552.1,584.9 1557.4,585.8 1562.4,588.6 1567.1,586.9 1572.5,584.9 1577.2,581.1 1582.2,578.3 1587.2,577.8 1593.0,575.6 1597.2,577.8 1602.2,581.1 1607.6,583.3 1612.6,585.3 1617.6,586.4 1622.6,584.4 1627.6,583.9 1632.6,581.1 1637.3,580.3 1642.6,575.6 1647.6,571.1 1652.7,573.9 1657.7,572.7 1662.7,570.2 1667.7,568.2 1672.7,566.1 1677.7,566.9 1682.7,548.2 1687.9,547.2 1692.9,547.2 1697.9,554.4 1702.9,566.4 1708.3,562.7 1713.3,563.6 1718.3,561.0 1723.3,561.0 1727.9,561.7 1733.0,560.6 1738.0,558.0 1743.0,561.1 1748.0,558.3 1753.1,563.3 1758.1,560.0 1763.3,542.8 1768.2,549.4 1773.2,548.9 1778.2,551.7 1783.2,553.9 1788.3,552.2 1793.3,552.0 1798.3,552.8 1803.3,551.1 1808.4,546.7 1813.4,550.6 1818.4,538.9 1823.4,532.2 1828.9,527.8 1834.1,536.1 1839.2,527.2 1844.2,516.7 1848.9,536.7 1853.9,543.9 1859.4,535.6 1864.4,519.8 1869.4,526.1 1874.4,533.0 1879.4,526.7 1883.9,524.2 1889.4,529.4 1894.4,532.8 1899.4,541.7 1904.0,537.8 1909.2,533.3 1914.0,541.1 1919.4,536.1 1924.4,542.0" fill="none" stroke="#9af637" stroke-opacity="0.88" stroke-width="3.5" stroke-linejoin="round" stroke-linecap="round"/><polyline points="229.2,622.9 235.0,582.0 240.4,578.7 245.1,599.5 250.1,607.1 255.1,625.4 260.1,617.1 265.1,622.1 270.1,629.6 275.1,650.1 280.5,650.6 286.0,633.8 291.0,622.1 296.0,608.7 300.7,599.5 305.7,599.9 311.0,587.0 315.6,576.2 317.7,556.9 320.7,521.9 325.6,562.8 330.3,553.6 336.1,556.4 340.3,555.6 345.3,563.6 350.8,567.8 356.2,553.6 361.2,549.4 367.0,535.2 371.2,521.0 376.2,480.9 381.2,507.7 386.2,523.5 391.2,550.3 396.2,550.6 401.3,533.6 406.3,529.4 411.6,511.0 417.1,508.5 422.1,507.3 426.8,513.5 431.3,483.4 436.3,480.6 441.3,471.7 446.4,488.4 451.4,487.6 456.4,477.1 461.4,485.1 466.7,488.4 471.4,479.3 476.8,494.3 481.8,524.4 486.8,530.2 491.8,521.9 496.8,522.2 501.8,507.7 506.5,507.3 511.5,496.0 516.9,487.6 521.5,489.3 526.5,490.5 531.6,500.1 536.6,488.4 541.6,489.6 546.6,489.8 551.9,480.9 556.6,475.1 561.6,475.9 566.6,470.9 572.2,459.7 577.0,470.1 582.5,468.4 587.5,468.4 592.2,454.2 597.2,463.4 602.2,467.6 607.6,476.0 612.6,476.8 617.6,477.6 622.3,462.6 627.6,466.4 632.6,475.1 637.7,473.5 642.7,467.6 647.3,466.8 652.4,463.4 657.7,466.3 662.7,474.3 668.1,482.6 672.7,475.5 677.8,467.9 682.8,467.6 687.8,463.8 693.1,461.3 698.1,430.9 703.1,430.9 708.0,397.8 712.9,386.1 717.9,380.6 722.9,386.5 728.1,381.5 733.1,387.8 738.1,391.5 743.1,385.3 748.1,385.3 753.1,395.6 758.5,390.3 763.0,341.4 768.0,346.0 773.2,336.8 778.2,315.1 783.6,331.8 788.9,328.2 793.6,316.8 798.6,304.3 803.9,284.7 808.6,305.9 813.6,326.8 818.3,316.8 823.3,308.8 828.7,312.6 833.7,325.2 838.7,317.6 843.7,336.0 849.0,329.3 853.7,306.8 858.7,299.3 864.1,313.5 868.8,331.0 873.8,349.4 878.8,356.4 883.8,364.4 888.8,364.9 894.1,370.3 899.2,351.0 904.2,371.1 908.8,372.8 913.9,370.3 919.4,385.3 924.4,364.4 929.4,361.1 934.4,351.0 939.4,347.4 944.4,344.4 949.4,354.7 954.8,350.7 959.5,306.4 964.5,324.3 969.5,341.9 974.0,313.1 979.8,315.1 984.9,326.8 989.9,383.6 994.5,416.7 999.6,408.7 1004.6,399.0 1009.9,412.9 1014.9,431.6 1019.6,429.6 1024.6,422.0 1030.0,428.2 1035.0,416.2 1040.0,407.0 1045.0,397.0 1049.7,385.1 1054.7,405.1 1059.7,408.4 1064.7,413.1 1069.8,402.1 1075.1,400.9 1080.1,413.5 1085.1,430.2 1089.6,469.4 1095.2,486.1 1100.2,456.1 1105.2,498.3 1110.2,506.2 1115.2,472.8 1120.2,465.2 1125.2,488.6 1130.2,530.4 1135.2,510.4 1140.3,511.5 1145.3,491.1 1150.3,501.2 1155.3,591.8 1160.3,518.7 1165.3,499.5 1170.3,475.8 1175.3,502.0 1180.4,524.6 1185.7,527.1 1190.7,542.4 1195.4,586.8 1200.4,631.1 1205.4,605.2 1210.4,628.6 1215.9,611.0 1220.4,636.9 1225.5,663.7 1231.0,677.0 1236.0,636.1 1241.0,620.2 1246.0,619.9 1251.0,605.2 1256.0,560.9 1261.0,549.6 1266.1,581.8 1271.1,565.9 1276.1,530.1 1281.1,537.9 1286.1,547.4 1291.1,557.1 1296.1,529.6 1301.5,539.1 1306.1,540.1 1311.5,516.2 1316.5,547.6 1321.5,528.4 1326.2,502.5 1331.5,525.4 1336.5,584.3 1340.7,565.1 1345.7,558.0 1351.1,542.1 1356.6,556.6 1361.6,553.8 1366.6,553.0 1371.6,550.4 1376.6,545.4 1381.7,545.4 1386.7,543.8 1390.9,525.1 1396.4,523.1 1401.7,529.3 1406.8,534.8 1411.4,532.3 1416.4,525.1 1421.8,535.2 1426.8,529.0 1431.5,529.6 1436.5,534.0 1441.5,537.3 1446.8,537.7 1451.9,519.8 1456.9,511.8 1461.9,521.5 1466.9,515.9 1471.9,517.1 1476.9,512.9 1481.9,538.2 1486.9,528.8 1492.0,528.5 1497.0,533.1 1502.0,533.5 1507.0,532.1 1512.0,531.8 1517.0,505.6 1522.0,511.8 1527.0,505.9 1532.0,495.9 1537.1,498.7 1542.1,504.2 1547.1,513.8 1552.1,485.4 1557.4,504.2 1562.1,510.9 1567.1,516.8 1572.5,529.6 1577.2,530.1 1582.2,526.8 1587.2,521.0 1592.2,526.8 1597.2,531.0 1602.2,534.7 1607.6,538.5 1612.6,510.4 1617.6,542.7 1622.6,546.5 1627.6,570.2 1632.6,616.2 1637.3,618.7 1642.6,628.7 1647.6,634.6 1652.7,635.7 1657.7,631.7 1662.7,644.6 1667.7,657.9 1672.7,622.4 1677.7,623.7 1682.7,617.0 1687.9,612.0 1693.3,706.1 1698.3,672.2 1702.9,635.9 1708.3,657.1 1713.3,652.9 1718.3,668.8 1723.3,659.6 1723.3,660.6 1728.3,676.7 1733.3,672.8 1738.0,677.2 1743.9,653.3 1748.3,676.7 1753.9,649.4 1758.9,665.0 1763.6,768.9 1768.9,747.2 1773.9,759.4 1778.9,777.8 1783.9,787.2 1788.9,788.0 1793.7,756.1 1798.9,782.8 1803.9,783.9 1809.1,759.1 1813.9,813.3 1818.9,852.2 1823.9,899.4 1828.9,890.0 1834.1,923.9 1839.2,914.4 1844.2,933.9 1848.9,891.7 1853.9,881.7 1859.4,921.7 1865.0,913.9 1869.4,874.4 1873.9,856.3 1878.9,862.2 1883.9,868.3 1889.2,855.3 1894.4,859.4 1899.4,872.8 1904.4,861.7 1909.4,886.7 1914.0,855.6 1919.4,832.2 1924.4,821.3" fill="none" stroke="#000000" stroke-width="3.5" stroke-linejoin="round" stroke-linecap="round"/></g>
<text x="605.5 725.6 770.6 894.7 981.7 1079.7 1201.9 1321.5 1447.6" y="660" class="wm">glassnode</text>
<text x="1839.9 1873.7 1887.1 1918.6 1944.2 1971.9 2005.6 2040.2 2072.8" y="1168.7" class="lg">glassnode</text>
<line x1="1937.5" y1="247" x2="1937.5" y2="988.5" stroke="#000" stroke-width="1.8"/>
</svg>
<div id="foot">© 2025 Glassnode. All Rights Reserved.</div>
</body></html>
